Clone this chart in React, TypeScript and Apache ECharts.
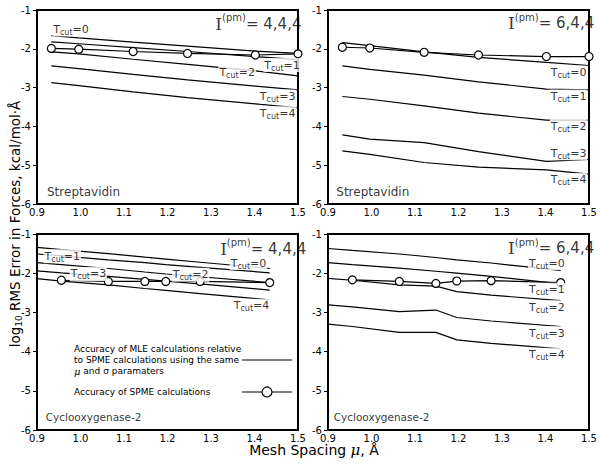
import React, { useEffect, useRef } from 'react';
import * as echarts from 'echarts';

// Mesh spacing (x) values
const X_STREP = [0.933, 0.996, 1.121, 1.246, 1.402, 1.5];
const X_COX_LINES = [0.9, 0.956, 1.064, 1.148, 1.196, 1.275, 1.435];
const X_COX_SPME = [0.956, 1.064, 1.148, 1.196, 1.275, 1.435];

// Panel 1: Streptavidin, I(pm)=4,4,4
const P1_SPME = [-1.99, -2.01, -2.07, -2.12, -2.16, -2.13];
const P1_T0 = [-1.66, -1.72, -1.83, -1.93, -2.06, -2.12];
const P1_T1 = [-1.82, -1.87, -1.97, -2.07, -2.2, -2.28];
const P1_T2 = [-2.08, -2.13, -2.27, -2.4, -2.57, -2.7];
const P1_T3 = [-2.44, -2.51, -2.66, -2.8, -2.96, -3.06];
const P1_T4 = [-2.87, -2.95, -3.11, -3.26, -3.42, -3.52];

// Panel 2: Streptavidin, I(pm)=6,4,4
const P2_SPME = [-1.96, -1.98, -2.09, -2.16, -2.2, -2.2];
const P2_T0 = [-1.84, -1.92, -2.08, -2.22, -2.35, -2.43];
const P2_T1 = [-2.44, -2.53, -2.68, -2.85, -3.04, -3.06];
const P2_T2 = [-3.23, -3.3, -3.47, -3.66, -3.84, -3.84];
const P2_T3 = [-4.22, -4.33, -4.42, -4.65, -4.9, -4.85];
const P2_T4 = [-4.63, -4.72, -4.93, -5.05, -5.12, -5.23];

// Panel 3: Cyclooxygenase-2, I(pm)=4,4,4
const P3_SPME = [-2.18, -2.21, -2.21, -2.21, -2.21, -2.24];
const P3_T0 = [-1.34, -1.4, -1.5, -1.59, -1.64, -1.72, -1.88];
const P3_T1 = [-1.51, -1.56, -1.66, -1.73, -1.78, -1.85, -1.99];
const P3_T2 = [-1.73, -1.78, -1.88, -1.97, -2.02, -2.09, -2.24];
const P3_T3 = [-1.94, -1.99, -2.08, -2.16, -2.2, -2.27, -2.43];
const P3_T4 = [-2.14, -2.2, -2.3, -2.39, -2.44, -2.52, -2.68];

// Panel 4: Cyclooxygenase-2, I(pm)=6,4,4
const P4_SPME = [-2.17, -2.21, -2.26, -2.2, -2.19, -2.24];
const P4_T0 = [-1.37, -1.42, -1.51, -1.6, -1.66, -1.74, -1.93];
const P4_T1 = [-1.73, -1.78, -1.87, -1.95, -2.0, -2.08, -2.27];
const P4_T2 = [-2.13, -2.18, -2.3, -2.33, -2.47, -2.56, -2.7];
const P4_T3 = [-2.81, -2.86, -2.98, -2.94, -3.13, -3.22, -3.36];
const P4_T4 = [-3.3, -3.36, -3.51, -3.51, -3.7, -3.79, -3.93];

const X_TICKS = [0.9, 1.0, 1.1, 1.2, 1.3, 1.4, 1.5];

// Annotations: [x, y, Tcut value]
const P1_TLABELS: [number, number, string][] = [[0.935, -1.5, '0'], [1.42, -2.42, '1'], [1.317, -2.6, '2'], [1.41, -3.23, '3'], [1.41, -3.66, '4']];
const P2_TLABELS: [number, number, string][] = [[1.41, -2.62, '0'], [1.41, -3.23, '1'], [1.41, -3.99, '2'], [1.41, -4.69, '3'], [1.41, -5.38, '4']];
const P3_TLABELS: [number, number, string][] = [[0.915, -1.57, '1'], [0.975, -2.02, '3'], [1.21, -2.04, '2'], [1.343, -1.74, '0'], [1.35, -2.83, '4']];
const P4_TLABELS: [number, number, string][] = [[1.36, -1.74, '0'], [1.36, -2.42, '1'], [1.36, -2.87, '2'], [1.36, -3.53, '3'], [1.36, -4.08, '4']];
const PANEL_IPM = ['4,4,4', '6,4,4', '4,4,4', '6,4,4'];
const PANEL_NAMES = ['Streptavidin', 'Streptavidin', 'Cyclooxygenase-2', 'Cyclooxygenase-2'];

const FONT = 'DejaVu Sans';

const zip = (xs: number[], ys: number[]) => ys.map((y, i) => [xs[i], y]);

export default function App() {
  const ref = useRef<HTMLDivElement>(null);
  useEffect(() => {
    document.body.style.margin = '0';
    const chart = echarts.init(ref.current!, null, { renderer: 'svg' });

    const grids = [
      { left: 37, top: 10, width: 261, height: 194 },
      { left: 328, top: 10, width: 261, height: 194 },
      { left: 37, top: 234, width: 261, height: 196 },
      { left: 328, top: 234, width: 261, height: 196 },
    ].map((g) => ({ ...g, show: true, borderColor: '#000', borderWidth: 2, backgroundColor: '#fff' }));

    const xAxes = grids.map((_, i) => ({
      gridIndex: i,
      type: 'value',
      min: 0.9,
      max: 1.5,
      interval: 0.1,
      axisLine: { show: true, onZero: false, lineStyle: { color: '#000', width: 2 } },
      axisTick: { show: false },
      splitLine: { show: false },
      axisLabel: {
        color: '#000', fontSize: 10, fontFamily: FONT, margin: 3,
        showMinLabel: true, showMaxLabel: true, hideOverlap: false,
        formatter: (v: number) => X_TICKS.find((t) => Math.abs(t - v) < 1e-6)?.toFixed(1) ?? '',
      },
    }));
    const yAxes = grids.map((_, i) => ({
      gridIndex: i,
      type: 'value',
      min: -6,
      max: -1,
      interval: 1,
      axisLine: { show: true, onZero: false, lineStyle: { color: '#000', width: 2 } },
      axisTick: { show: true, inside: false, length: 4, lineStyle: { color: '#000', width: 1 } },
      splitLine: { show: false },
      axisLabel: { color: '#000', fontSize: 10, fontFamily: FONT, margin: 6, showMinLabel: true, showMaxLabel: true },
    }));

    const line = (gi: number, xs: number[], ys: number[]) => ({
      type: 'line', xAxisIndex: gi, yAxisIndex: gi, data: zip(xs, ys),
      symbol: 'none', silent: true, z: 2,
      lineStyle: { color: '#000', width: 1.2 },
    });
    const spme = (gi: number, xs: number[], ys: number[]) => ({
      type: 'line', xAxisIndex: gi, yAxisIndex: gi, data: zip(xs, ys),
      symbol: 'circle', symbolSize: 8, showAllSymbol: true, silent: true, z: 4,
      lineStyle: { color: '#000', width: 1.2 },
      itemStyle: { color: '#fff', borderColor: '#000', borderWidth: 1.2 },
    });

    const tRich = {
      t: { fontSize: 11, fontFamily: FONT, color: '#000', lineHeight: 14, verticalAlign: 'middle' },
      s: { fontSize: 8, fontFamily: FONT, color: '#000', lineHeight: 6, verticalAlign: 'bottom' },
    };
    const labels = (gi: number, items: [number, number, string][]) => ({
      type: 'scatter', xAxisIndex: gi, yAxisIndex: gi, symbolSize: 0, silent: true, z: 6,
      data: items.map(([x, y, t]) => ({
        value: [x, y],
        label: {
          show: true, position: 'inside', align: 'left', verticalAlign: 'middle',
          formatter: `{t|T}{s|cut}{t|=${t}}`, rich: tRich,
          backgroundColor: '#fff', padding: [0, 1, 0, 1],
        },
      })),
    });
    const ipmLabel = (gi: number, x: number, y: number) => ({
      type: 'scatter', xAxisIndex: gi, yAxisIndex: gi, symbolSize: 0, silent: true, z: 6,
      data: [{
        value: [x, y],
        label: {
          show: true, position: 'inside', align: 'left', verticalAlign: 'middle',
          formatter: `{i|I}{p|(pm)}{n|= ${PANEL_IPM[gi]}}`,
          rich: {
            i: { fontSize: 17, fontFamily: 'DejaVu Serif', color: '#000', lineHeight: 22, verticalAlign: 'middle' },
            p: { fontSize: 10, fontFamily: FONT, color: '#000', lineHeight: 10, verticalAlign: 'top' },
            n: { fontSize: 15, fontFamily: FONT, color: '#000', lineHeight: 22, verticalAlign: 'middle' },
          },
        },
      }],
    });
    const nameLabel = (gi: number, x: number, y: number, size: number) => ({
      type: 'scatter', xAxisIndex: gi, yAxisIndex: gi, symbolSize: 0, silent: true, z: 6,
      data: [{
        value: [x, y],
        label: {
          show: true, position: 'inside', align: 'left', verticalAlign: 'middle',
          formatter: PANEL_NAMES[gi], color: '#000', fontSize: size, fontFamily: FONT,
        },
      }],
    });

    const series = [
      line(0, X_STREP, P1_T0), line(0, X_STREP, P1_T1), line(0, X_STREP, P1_T2), line(0, X_STREP, P1_T3), line(0, X_STREP, P1_T4),
      spme(0, X_STREP, P1_SPME),
      line(1, X_STREP, P2_T0), line(1, X_STREP, P2_T1), line(1, X_STREP, P2_T2), line(1, X_STREP, P2_T3), line(1, X_STREP, P2_T4),
      spme(1, X_STREP, P2_SPME),
      line(2, X_COX_LINES, P3_T0), line(2, X_COX_LINES, P3_T1), line(2, X_COX_LINES, P3_T2), line(2, X_COX_LINES, P3_T3), line(2, X_COX_LINES, P3_T4),
      spme(2, X_COX_SPME, P3_SPME),
      line(3, X_COX_LINES, P4_T0), line(3, X_COX_LINES, P4_T1), line(3, X_COX_LINES, P4_T2), line(3, X_COX_LINES, P4_T3), line(3, X_COX_LINES, P4_T4),
      spme(3, X_COX_SPME, P4_SPME),
      labels(0, P1_TLABELS), labels(1, P2_TLABELS), labels(2, P3_TLABELS), labels(3, P4_TLABELS),
      ipmLabel(0, 1.31, -1.35), ipmLabel(1, 1.314, -1.34), ipmLabel(2, 1.321, -1.37), ipmLabel(3, 1.314, -1.36),
      nameLabel(0, 0.923, -5.68, 12), nameLabel(1, 0.919, -5.68, 12),
      nameLabel(2, 0.92, -5.66, 10.5), nameLabel(3, 0.913, -5.66, 10.5),
    ];

    const legendText = (x: number, y: number, text: string, rich?: any) => ({
      type: 'text', x, y, z: 10,
      style: { text, fill: '#000', fontSize: 9, fontFamily: FONT, textVerticalAlign: 'middle', rich },
    });

    const graphic = [
      {
        type: 'text', x: 15, y: 224, rotation: Math.PI / 2, z: 10,
        style: {
          text: '{a|log}{s|10}{a| RMS Error in Forces, kcal/mol·Å}',
          textAlign: 'center', textVerticalAlign: 'middle',
          rich: {
            a: { fontSize: 13.5, fontFamily: FONT, fill: '#000', color: '#000', lineHeight: 16, verticalAlign: 'middle' },
            s: { fontSize: 9, fontFamily: FONT, fill: '#000', color: '#000', lineHeight: 8, verticalAlign: 'bottom' },
          },
        },
      },
      {
        type: 'text', x: 314, y: 450, z: 10,
        style: {
          text: '{a|Mesh Spacing }{i|μ}{a|, Å}',
          textAlign: 'center', textVerticalAlign: 'middle',
          rich: {
            a: { fontSize: 14, fontFamily: FONT, fill: '#000', color: '#000' },
            i: { fontSize: 15, fontFamily: 'DejaVu Serif', fontStyle: 'italic', fill: '#000', color: '#000' },
          },
        },
      },
      legendText(74, 349, 'Accuracy of MLE calculations relative'),
      legendText(74, 360, 'to SPME calculations using the same'),
      legendText(74, 371, '{i|μ}{n| and σ paramaters}', {
        i: { fontSize: 10, fontFamily: 'DejaVu Serif', fontStyle: 'italic', fill: '#000', color: '#000' },
        n: { fontSize: 9, fontFamily: FONT, fill: '#000', color: '#000' },
      }),
      legendText(74, 392, 'Accuracy of SPME calculations'),
      { type: 'line', z: 10, shape: { x1: 242, y1: 360, x2: 292, y2: 360 }, style: { stroke: '#000', lineWidth: 1.2 } },
      { type: 'line', z: 10, shape: { x1: 242, y1: 392, x2: 292, y2: 392 }, style: { stroke: '#000', lineWidth: 1.2 } },
      { type: 'circle', z: 11, shape: { cx: 267, cy: 392, r: 5 }, style: { fill: '#fff', stroke: '#000', lineWidth: 1.2 } },
    ];

    chart.setOption({
      animation: false,
      backgroundColor: '#fff',
      grid: grids,
      xAxis: xAxes,
      yAxis: yAxes,
      series,
      graphic,
    });
    return () => chart.dispose();
  }, []);
  return <div ref={ref} style={{ width: 600, height: 465 }} />;
}
